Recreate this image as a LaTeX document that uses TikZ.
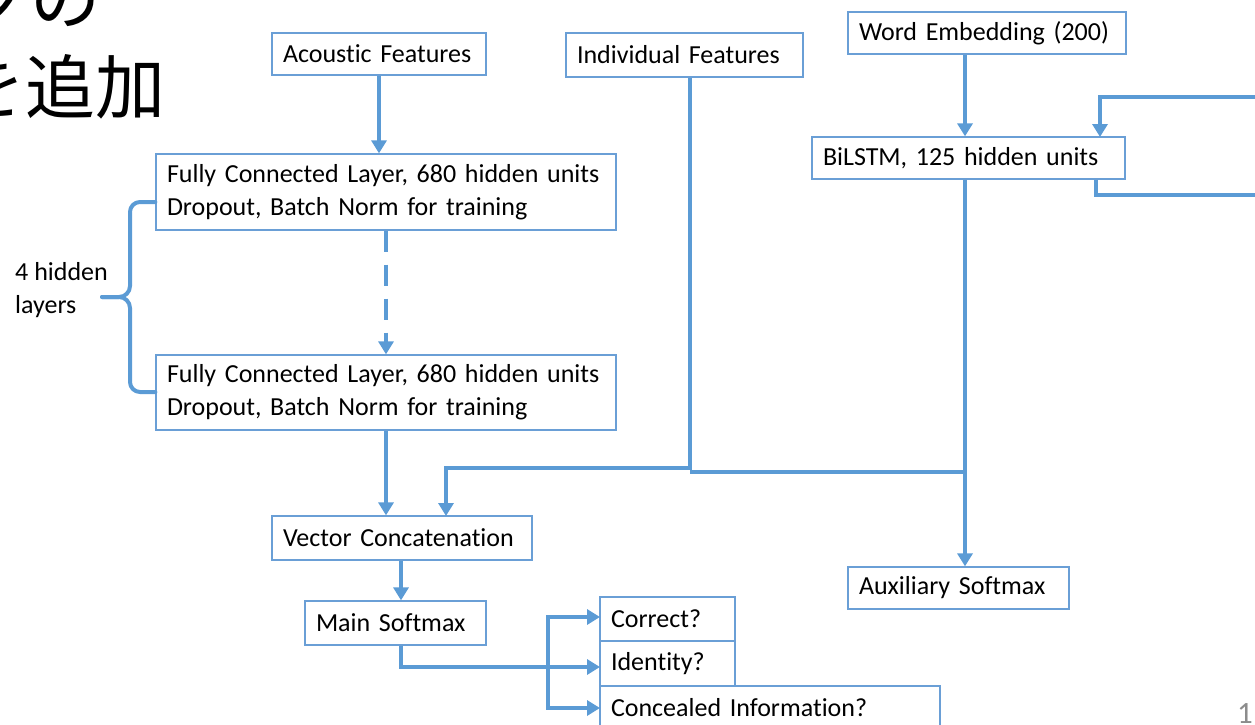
\documentclass[tikz,border=0pt]{standalone}
\usepackage{fontspec}
\setmainfont{Carlito}[Ligatures=NoCommon]
\newfontfamily\jpfont{Noto Sans CJK JP}
\usetikzlibrary{arrows.meta}
\definecolor{lineblue}{HTML}{5B9BD5}
\definecolor{boxblue}{HTML}{6A9FD6}
\definecolor{pgray}{HTML}{8C8C8C}
\tikzset{
  box/.style={draw=boxblue, line width=1.3pt, inner xsep=11pt, inner ysep=0pt,
    align=left, font=\fontsize{26}{33}\selectfont, anchor=center},
  conn/.style={draw=lineblue, line width=4pt},
  arr/.style={conn, -{Triangle[width=15pt,length=13pt]}},
}
\begin{document}
\begin{tikzpicture}[x=1pt,y=-1pt]
\useasboundingbox (0,0) rectangle (1255,725);
\clip (0,0) rectangle (1255,725);

% title fragments (cut off)
\node[anchor=base east, inner sep=0pt, font=\jpfont\fontsize{70}{70}\selectfont] (t1) at (101,25) {クの};
\node[anchor=base east, inner sep=0pt, font=\jpfont\fontsize{70}{70}\selectfont] (t2) at (166,113) {を追加};

% boxes
\node[box, text width=192pt, minimum height=42pt] (ac)  at (379,54)    {Acoustic Features};
\node[box, text width=215pt, minimum height=44pt] (ind) at (684.5,55)  {Individual Features};
\node[box, text width=256pt, minimum height=42pt] (we)  at (987,33)    {Word Embedding (200)};
\node[box, text width=438pt, minimum height=76pt] (fc1) at (386,192)   {Fully Connected Layer, 680 hidden units\\Dropout, Batch Norm for training};
\node[box, text width=438pt, minimum height=75pt] (fc2) at (386,392.5) {Fully Connected Layer, 680 hidden units\\Dropout, Batch Norm for training};
\node[box, text width=291pt, minimum height=42pt] (bil) at (968.5,158) {BiLSTM, 125 hidden units};
\node[box, text width=238pt, minimum height=44pt] (vc)  at (402,538)   {Vector Concatenation};
\node[box, text width=199pt, minimum height=42pt] (aux) at (958.5,588) {Auxiliary Softmax};
\node[box, text width=159pt, minimum height=44pt] (ms)  at (395.5,623) {Main Softmax};
\node[box, text width=113pt, minimum height=44pt] (cor) at (667.5,619) {Correct?};
\node[box, text width=113pt, minimum height=45pt] (idn) at (667.5,663.5) {Identity?};
\node[box, text width=318pt, minimum height=44pt] (con) at (770,708)   {Concealed Information?};

% brace label
\node[anchor=west, inner sep=0pt, align=left, font=\fontsize{26}{33}\selectfont] (lbl) at (15,290) {4 hidden\\layers};

% helper coordinates
\coordinate (bx) at (965,0);
\coordinate (mx) at (401,0);
\coordinate (j1) at (690,468);
\coordinate (j2) at (964,472);
\coordinate (vcin) at (446,516);
\coordinate (lt) at (1256,97);
\coordinate (lin) at (1100,137);
\coordinate (lout) at (1096,195);
\coordinate (lb) at (1256,195);
\coordinate (br) at (548,667);
\coordinate (ca) at (600,617);
\coordinate (cb) at (600,667);
\coordinate (cc) at (600,708);

% connectors
\draw[arr] (ac.south) -- (ac.south |- fc1.north);
\draw[arr, dash pattern=on 21pt off 13pt] (fc1.south) -- (fc1.south |- fc2.north);
\draw[arr] (fc2.south) -- (fc2.south |- vc.north);
\draw[arr] (ind.south -| j1) -- (j1) -| (vcin);
\draw[conn] (j2) -- (j2 -| j1);
\draw[arr] (we.south -| bx) -- (bil.north -| bx);
\draw[arr] (bil.south -| bx) -- (aux.north -| bx);
\draw[arr] (lt) -| (lin);
\draw[conn] (bil.south -| lout) -- (lout) -- (lb);
\draw[arr] (vc.south -| mx) -- (ms.north -| mx);
\draw[arr] (ms.south -| mx) |- (cb);
\draw[arr] (br) |- (ca);
\draw[arr] (br) |- (cc);

% brace
\draw[conn, line cap=round, line join=round] (fc1.west |- 0,202) -- (140,202) to[out=180,in=90] (130,212) -- (130,286) to[out=-90,in=0] (119,297) -- (102,297);
\draw[conn, line cap=round, line join=round] (102,297) -- (119,297) to[out=0,in=90] (130,308) -- (130,382) to[out=-90,in=180] (140,392) -- (fc2.west |- 0,392);

% page number (cut off)
\node[anchor=base west, inner sep=0pt, text=pgray, font=\fontsize{31}{31}\selectfont] (pg) at (1237,723) {1};
\end{tikzpicture}
\end{document}
